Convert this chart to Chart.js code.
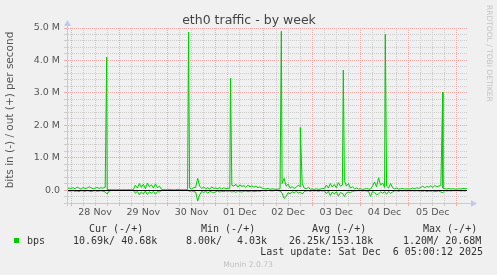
<!DOCTYPE html>
<html>
<head>
<meta charset="utf-8">
<script src="https://cdn.jsdelivr.net/npm/chart.js@4"></script>
<style>
  html, body { margin: 0; padding: 0; background: #f0f0f0; }
  canvas { display: block; }
</style>
</head>
<body>
<canvas id="trafficChart" width="497" height="275"></canvas>
<script>
// hours are counted from 28 Nov 00:00, one sample per hour, values in kbit/s
var firstHour = -2;
var dayLabels = ["28 Nov", "29 Nov", "30 Nov", "01 Dec", "02 Dec", "03 Dec", "04 Dec", "05 Dec"];

// out (+)
var outK = [
  40, 60,
  50, 70, 40, 90, 60, 30, 80, 50, 60, 100, 70, 40, 60, 80, 50, 70, 60, 90, 20, 10, 10, 10, 5, 10,
  10, 5, 10, 5, 10, 10, 5, 10, 150, 60, 200, 80, 180, 40, 210, 100, 160, 60, 190, 70, 120, 20, 10, 10,
  10, 20, 10, 5, 10, 20, 10, 10, 5, 10, 10, 60, 30, 80, 80, 360, 120, 50, 90, 40, 70, 30, 100, 50,
  60, 40, 80, 30, 70, 40, 60, 50, 150, 120, 180, 90, 160, 110, 140, 80, 150, 100, 130, 90, 120, 70, 100, 60,
  40, 30, 50, 20, 40, 30, 20, 30, 40, 200, 360, 120, 180, 60, 100, 50, 80, 150, 100, 200, 60, 40, 80, 30,
  30, 20, 40, 20, 30, 50, 40, 150, 60, 200, 90, 170, 70, 230, 120, 150, 300, 120, 200, 60, 100, 40, 60, 30,
  40, 20, 30, 50, 30, 30, 120, 250, 100, 380, 150, 220, 80, 120, 60, 200, 70, 40, 60, 30, 40, 50, 30, 40,
  30, 40, 60, 40, 70, 50, 80, 120, 70, 110, 90, 130, 80, 140, 100, 120, 150, 60, 40, 30, 50, 30, 40, 30,
  30, 40, 30, 50, 40, 41
];

// in (-), stored as magnitudes
var inK = [
  20, 30,
  30, 20, 40, 30, 50, 20, 30, 40, 20, 30, 50, 30, 20, 40, 30, 20, 40, 60, 120, 30, 10, 5, 10, 5,
  5, 10, 5, 5, 10, 5, 10, 5, 100, 40, 150, 60, 120, 30, 140, 50, 100, 40, 130, 50, 60, 10, 5, 10,
  5, 10, 5, 5, 10, 5, 5, 10, 5, 5, 10, 40, 20, 50, 60, 340, 150, 40, 80, 30, 100, 40, 60, 80,
  50, 30, 60, 40, 50, 30, 40, 30, 60, 40, 70, 30, 50, 60, 40, 30, 50, 40, 30, 50, 40, 30, 40, 20,
  20, 30, 10, 20, 30, 20, 10, 20, 30, 100, 260, 200, 80, 120, 50, 90, 40, 100, 60, 120, 50, 30, 20, 40,
  20, 30, 20, 40, 20, 30, 20, 110, 40, 170, 60, 130, 50, 190, 80, 100, 200, 90, 60, 80, 40, 30, 20, 20,
  20, 30, 20, 30, 40, 200, 40, 80, 150, 120, 60, 100, 50, 130, 40, 100, 60, 30, 20, 40, 20, 30, 20, 30,
  20, 30, 20, 30, 20, 30, 30, 40, 20, 50, 30, 40, 30, 50, 40, 30, 60, 80, 20, 30, 20, 30, 20, 20,
  20, 20, 30, 20, 30, 11
];

// short bursts on the out side
var spikeHours = [17.76, 58.46, 79.35, 104.63, 114.08, 135.47, 156.37, 184.93];
var spikeK = [4100, 4870, 3450, 4900, 1930, 3700, 4810, 3020];

var legendHeads = ["Cur (-/+)", "Min (-/+)", "Avg (-/+)", "Max (-/+)"];
var legendValues = ["10.69k/ 40.68k", "8.00k/", "4.03k", "26.25k/153.18k", "1.20M/ 20.68M"];

var GREEN = "#00cc00";
var MAJOR = "rgb(241, 170, 170)";
var MINOR = "rgb(204, 204, 204)";
var AXIS = "#c3c8f2";

function toPoints(values, sign) {
  return values.map(function (v, i) { return { x: firstHour + i, y: sign * v }; });
}

var outPoints = toPoints(outK, 1);
spikeHours.forEach(function (h, i) { outPoints.push({ x: h, y: spikeK[i] }); });
outPoints.sort(function (a, b) { return a.x - b.x; });
var inPoints = toPoints(inK, -1);

function isMajorX(v) { return v % 24 === 0; }
function isMajorY(v) { return v % 1000 === 0; }

var munin = {
  id: "munin",
  beforeDraw: function (chart) {
    var ctx = chart.ctx;
    ctx.save();
    ctx.fillStyle = "#f0f0f0";
    ctx.fillRect(0, 0, chart.width, chart.height);
    ctx.restore();
  },
  beforeDatasetsDraw: function (chart) {
    // dotted grid, one pixel on / one off
    var ctx = chart.ctx, a = chart.chartArea;
    var xs = chart.scales.x, ys = chart.scales.y;
    ctx.save();
    [false, true].forEach(function (major) {
      ctx.fillStyle = major ? MAJOR : MINOR;
      xs.ticks.forEach(function (t) {
        if (isMajorX(t.value) !== major) return;
        var px = Math.round(xs.getPixelForValue(t.value) - 0.5);
        for (var y = a.top; y < a.bottom; y += 2) ctx.fillRect(px, y, 1, 1);
      });
      ys.ticks.forEach(function (t) {
        if (isMajorY(t.value) !== major || t.value === ys.min) return;
        var py = Math.round(ys.getPixelForValue(t.value) - 0.5);
        for (var x = a.left + 1; x < a.right; x += 2) ctx.fillRect(x, py, 1, 1);
      });
    });
    ctx.restore();
  },
  afterDatasetsDraw: function (chart) {
    var ctx = chart.ctx, a = chart.chartArea;
    var y0 = Math.round(chart.scales.y.getPixelForValue(0) - 0.5) + 0.5;
    ctx.save();
    ctx.strokeStyle = "#000";
    ctx.lineWidth = 1;
    ctx.beginPath();
    ctx.moveTo(a.left, y0);
    ctx.lineTo(a.right, y0);
    ctx.stroke();
    ctx.restore();
  },
  afterDraw: function (chart) {
    var ctx = chart.ctx, a = chart.chartArea;
    ctx.save();
    // axes with arrows
    ctx.strokeStyle = AXIS;
    ctx.fillStyle = AXIS;
    ctx.lineWidth = 1;
    ctx.beginPath();
    ctx.moveTo(a.left - 3, a.bottom + 0.5);
    ctx.lineTo(a.right + 5, a.bottom + 0.5);
    ctx.moveTo(a.left + 0.5, a.bottom + 3);
    ctx.lineTo(a.left + 0.5, a.top - 3);
    ctx.stroke();
    ctx.beginPath();
    ctx.moveTo(a.right + 10, a.bottom + 0.5);
    ctx.lineTo(a.right + 4, a.bottom - 3);
    ctx.lineTo(a.right + 4, a.bottom + 4);
    ctx.fill();
    ctx.beginPath();
    ctx.moveTo(a.left + 0.5, a.top - 8);
    ctx.lineTo(a.left - 3, a.top - 2);
    ctx.lineTo(a.left + 4, a.top - 2);
    ctx.fill();

    // title
    ctx.fillStyle = "#444";
    ctx.font = "12.5px 'DejaVu Sans'";
    ctx.textAlign = "center";
    ctx.textBaseline = "alphabetic";
    ctx.fillText("eth0 traffic - by week", 249, 24);

    // vertical unit label
    ctx.save();
    ctx.translate(10, 110);
    ctx.rotate(-Math.PI / 2);
    ctx.font = "10.5px 'DejaVu Sans'";
    ctx.fillStyle = "#555";
    ctx.textAlign = "center";
    ctx.textBaseline = "middle";
    ctx.fillText("bits in (-) / out (+) per second", 0, 0);
    ctx.restore();

    // watermark on the right
    ctx.save();
    ctx.translate(488.5, 5);
    ctx.rotate(Math.PI / 2);
    ctx.font = "7.5px 'DejaVu Sans'";
    ctx.fillStyle = "#c4c4c4";
    ctx.textAlign = "left";
    ctx.textBaseline = "middle";
    ctx.fillText("RRDTOOL / TOBI OETIKER", 0, 0);
    ctx.restore();

    // legend
    ctx.font = "10px 'DejaVu Sans Mono'";
    ctx.fillStyle = "#333";
    ctx.textAlign = "left";
    ctx.fillText(legendHeads[0], 89, 232);
    ctx.fillText(legendHeads[1], 201, 232);
    ctx.fillText(legendHeads[2], 312, 232);
    ctx.fillText(legendHeads[3], 423, 232);
    ctx.fillText("bps", 27, 243.5);
    ctx.fillText(legendValues[0], 73, 243.5);
    ctx.fillText(legendValues[1], 186, 243.5);
    ctx.fillText(legendValues[2], 237, 243.5);
    ctx.fillText(legendValues[3], 289, 243.5);
    ctx.fillText(legendValues[4], 403, 243.5);
    ctx.textAlign = "right";
    ctx.fillText("Last update: Sat Dec  6 05:00:12 2025", 483, 254.5);
    ctx.fillStyle = GREEN;
    ctx.fillRect(14, 238, 5, 5);

    ctx.font = "7.6px 'DejaVu Sans'";
    ctx.fillStyle = "#c0c0c0";
    ctx.textAlign = "center";
    ctx.fillText("Munin 2.0.73", 248, 266.5);
    ctx.restore();
  }
};

var trafficChart = new Chart(document.getElementById("trafficChart"), {
  type: "line",
  data: {
    datasets: [
      { label: "out", data: outPoints, borderColor: GREEN, borderWidth: 1, pointRadius: 0, tension: 0 },
      { label: "in", data: inPoints, borderColor: GREEN, borderWidth: 1, pointRadius: 0, tension: 0 }
    ]
  },
  options: {
    responsive: false,
    animation: false,
    layout: { padding: { left: 0, top: 28, right: 30, bottom: 0 } },
    plugins: { legend: { display: false }, title: { display: false }, tooltip: { enabled: false } },
    scales: {
      x: {
        type: "linear",
        min: -2,
        max: 197,
        afterBuildTicks: function (scale) {
          var t = [];
          for (var h = 0; h <= 192; h += 6) t.push({ value: h });
          scale.ticks = t;
        },
        afterFit: function (scale) { scale.height = 72; },
        grid: {
          drawOnChartArea: false,
          tickColor: function (c) { return c.tick && isMajorX(c.tick.value) ? MAJOR : MINOR; },
          tickLength: 3,
          lineWidth: 1
        },
        border: { display: false },
        ticks: {
          autoSkip: false,
          maxRotation: 0,
          padding: 1,
          color: "#555",
          font: { family: "DejaVu Sans", size: 9.5 },
          callback: function (v) { return v % 24 === 12 ? dayLabels[Math.floor(v / 24)] : ""; }
        }
      },
      y: {
        type: "linear",
        min: -400,
        max: 5000,
        afterBuildTicks: function (scale) {
          var t = [];
          for (var v = -400; v <= 5000; v += 200) t.push({ value: v });
          scale.ticks = t;
        },
        afterFit: function (scale) { scale.width = 67; },
        grid: {
          drawOnChartArea: false,
          tickColor: function (c) { return c.tick && isMajorY(c.tick.value) ? MAJOR : MINOR; },
          tickLength: 3,
          lineWidth: 1
        },
        border: { display: false },
        ticks: {
          autoSkip: false,
          padding: 4,
          color: "#555",
          font: { family: "DejaVu Sans", size: 9.5 },
          callback: function (v) {
            if (!isMajorY(v) || v < 0) return "";
            return v === 0 ? "0.0" : (v / 1000).toFixed(1) + " M";
          }
        }
      }
    }
  },
  plugins: [munin]
});
</script>
</body>
</html>
